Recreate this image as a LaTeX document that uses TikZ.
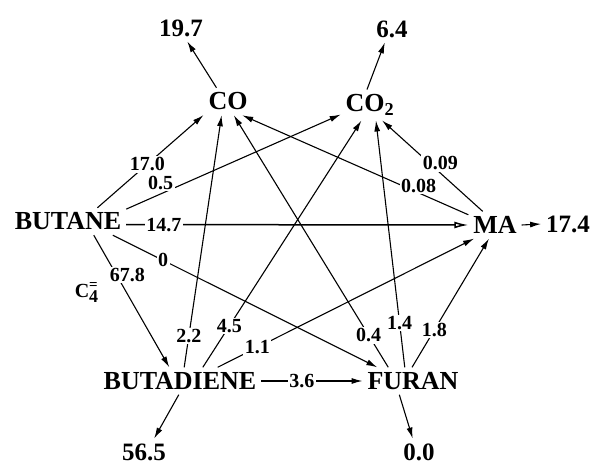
\documentclass[tikz,border=0pt]{standalone}
\usepackage{fontspec}
\setmainfont{Liberation Serif}
\usetikzlibrary{arrows.meta}

\begin{document}
\begin{tikzpicture}[
  x=1pt,y=-1pt,
  chem/.style={font=\fontsize{26}{28}\selectfont\bfseries,inner sep=2pt,outer sep=3pt},
  endval/.style={font=\fontsize{25}{27}\selectfont\bfseries,inner sep=2pt,outer sep=3pt},
  rate/.style={font=\fontsize{20}{21}\selectfont\bfseries,fill=white,inner sep=1.5pt},
  flow/.style={-{Latex[length=11pt,width=6pt]},line width=1.1pt},
  major/.style={-{Latex[open,length=14pt,width=7pt]},line width=1.5pt}
]
  \useasboundingbox (0,0) rectangle (595,465);
  % species
  \node[chem] (butane) at (68,221.5) {BUTANE};
  \node[chem] (co) at (228,101.5) {CO};
  \node[chem] (co2) at (370,105) {CO\textsubscript{2}};
  \node[chem] (ma) at (495,225) {MA};
  \node[chem] (butadiene) at (180,381) {BUTADIENE};
  \node[chem] (furan) at (413,381) {FURAN};
  % yields
  \node[endval] (v197) at (181,28) {19.7};
  \node[endval] (v64) at (392,29) {6.4};
  \node[endval] (v174) at (568,224) {17.4};
  \node[endval] (v565) at (144,452) {56.5};
  \node[endval] (v00) at (419,452) {0.0};
  % outlets
  \draw[flow] (co.130) -- (v197.295);
  \draw[flow] (co2.101) -- (v64.242);
  \draw[flow] (ma.east) -- (v174.west);
  \draw[flow] (butadiene.265) -- (v565.53);
  \draw[flow] (furan.225) -- (v00.115);
  % from butane
  \draw[flow] (butane.25) -- node[rate,pos=0.47]{17.0} (co.209);
  \draw[flow] (butane.12) -- node[rate,pos=0.16,above=2pt]{0.5} (co2.198);
  \draw[major] (butane.-3) -- node[rate,pos=0.11]{14.7} (ma.180);
  \draw[flow] (butane.-17) -- node[rate,pos=0.19]{0} (furan.159);
  \draw[flow] (butane.-28) -- node[rate,pos=0.3,xshift=11pt]{67.8}
    node[rate,pos=0.43,left=26pt]{C\makebox[0pt][l]{\raisebox{8pt}{\fontsize{15}{15}\selectfont=}}\raisebox{-5pt}{\fontsize{18}{18}\selectfont 4}} (butadiene.128);
  % from butadiene
  \draw[flow] (butadiene.east) -- node[rate,pos=0.4]{3.6} (furan.west);
  \draw[flow] (butadiene.73) -- node[rate,pos=0.125]{2.2} (co.245);
  \draw[flow] (butadiene.31) -- node[rate,pos=0.167]{4.5} (co2.241);
  \draw[flow] (butadiene.20) -- node[rate,pos=0.155]{1.1} (ma.213);
  % from furan
  \draw[flow] (furan.151) -- node[rate,pos=0.127]{0.4} (co.293);
  \draw[flow] (furan.121) -- node[rate,pos=0.18]{1.4} (co2.291);
  \draw[flow] (furan.94) -- node[rate,pos=0.29]{1.8} (ma.246);
  % from MA
  \draw[flow] (ma.159) -- node[rate,pos=0.22,yshift=7pt]{0.08} (co.316);
  \draw[flow] (ma.132) -- node[rate,pos=0.42,yshift=10pt]{0.09} (co2.308);
\end{tikzpicture}
\end{document}
